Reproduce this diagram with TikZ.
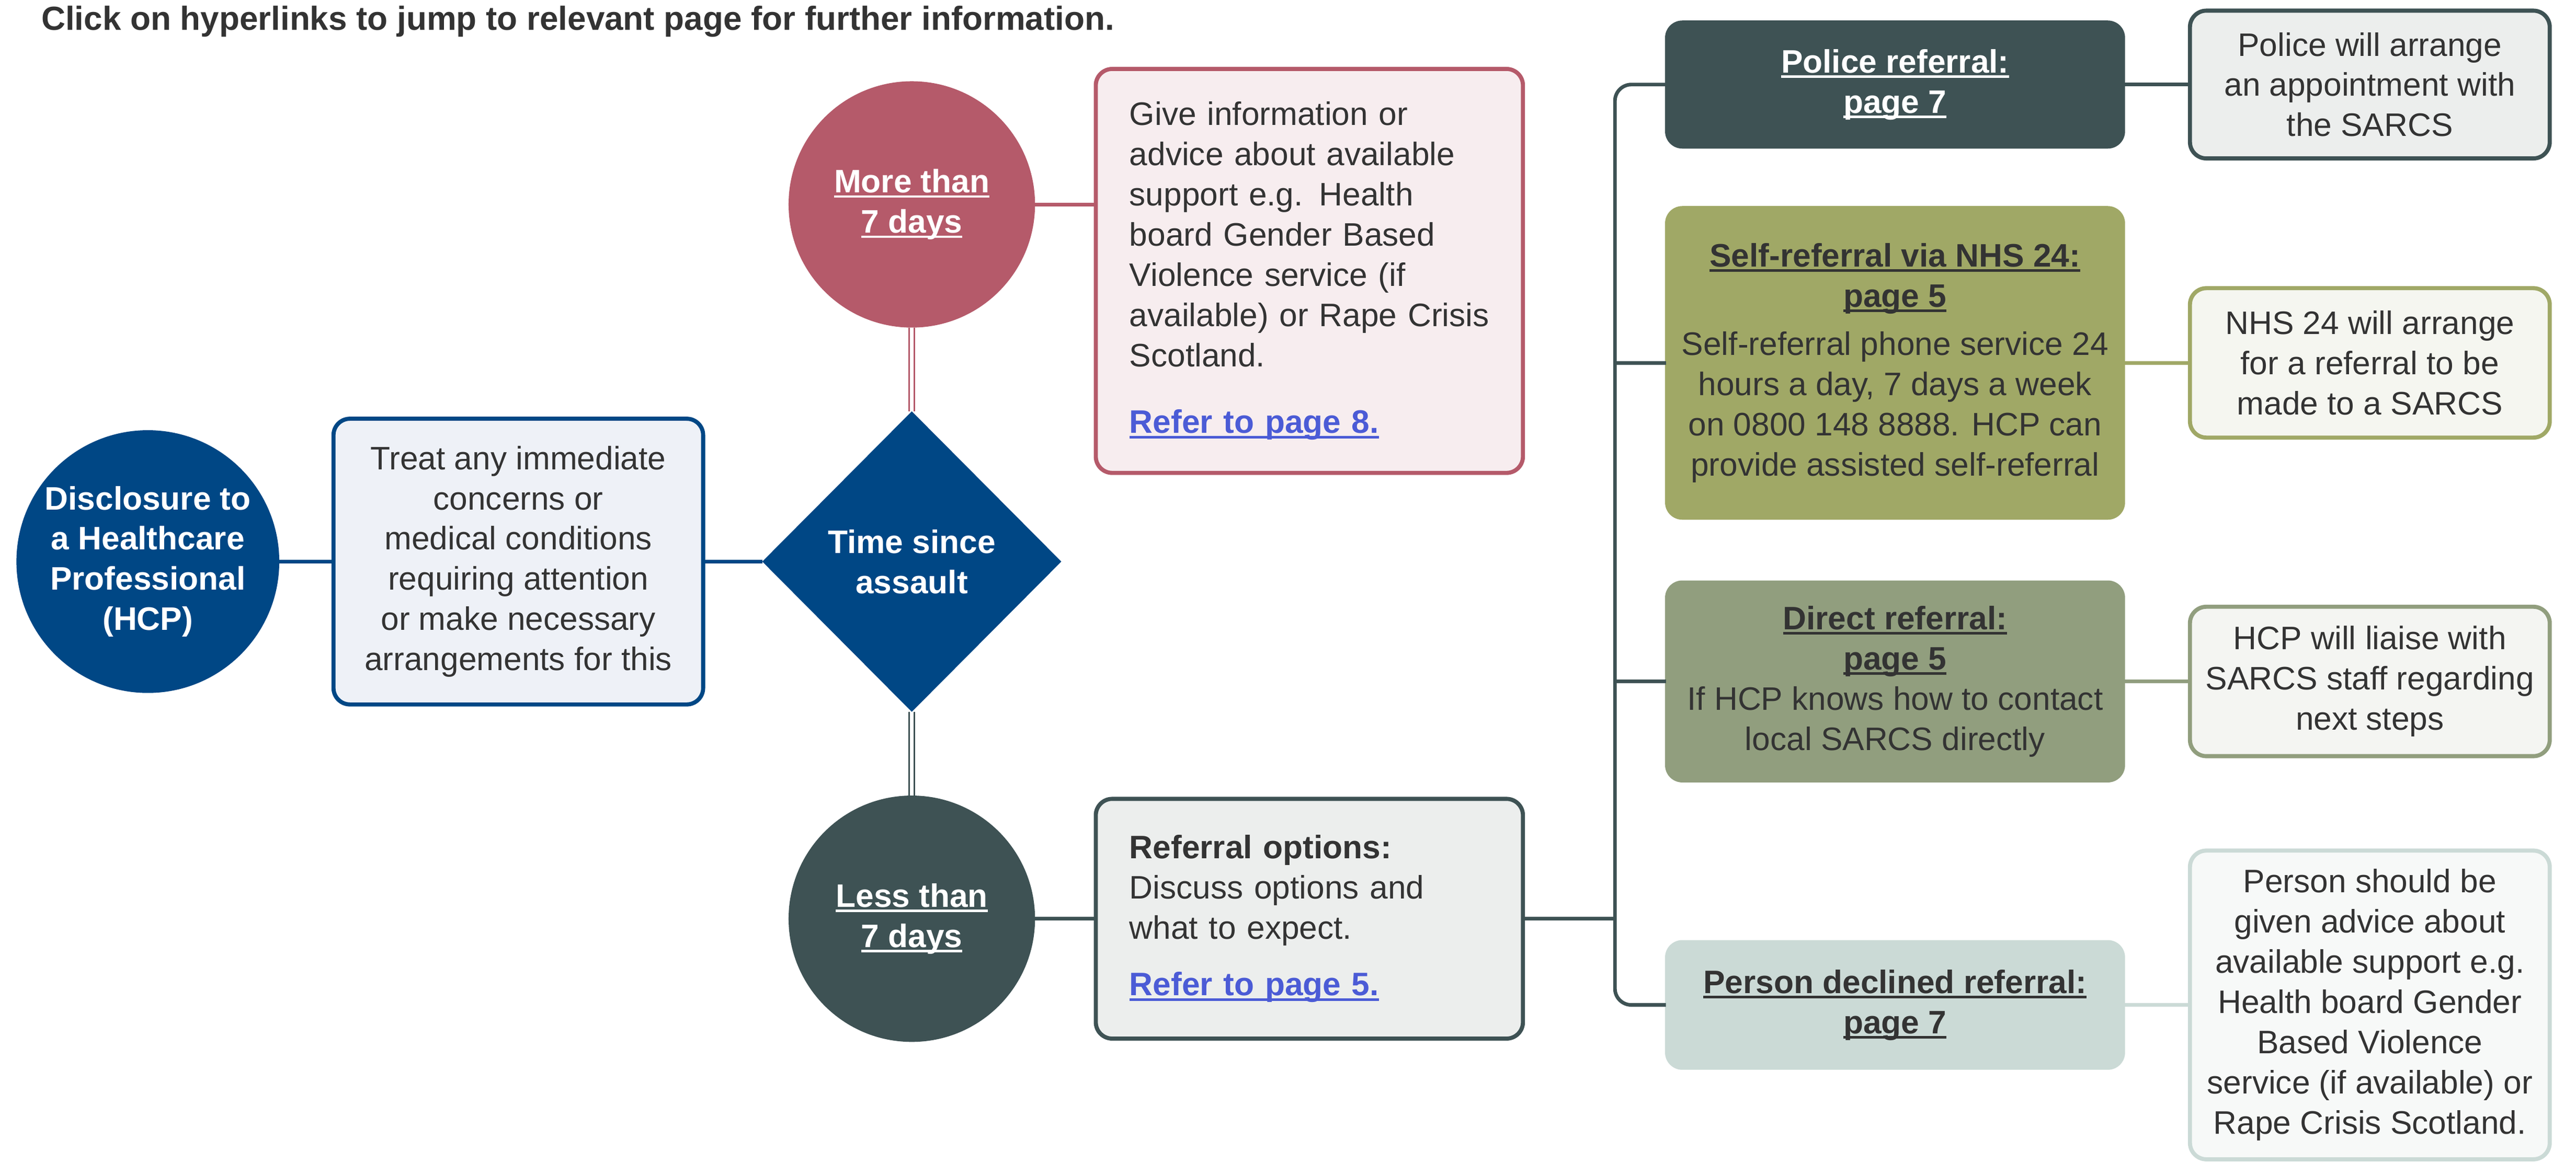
\documentclass[tikz,border=0pt]{standalone}
\usepackage{fontspec}
\setmainfont{Liberation Sans}
\usetikzlibrary{positioning,shapes.geometric}
\definecolor{navy}{RGB}{0,71,133}
\definecolor{navyfill}{RGB}{238,241,247}
\definecolor{rose}{RGB}{181,90,106}
\definecolor{rosefill}{RGB}{247,237,239}
\definecolor{slate}{RGB}{62,82,84}
\definecolor{slatefill}{RGB}{236,238,237}
\definecolor{olive}{RGB}{160,168,102}
\definecolor{olivefill}{RGB}{245,246,240}
\definecolor{sage}{RGB}{145,158,126}
\definecolor{sagefill}{RGB}{244,245,242}
\definecolor{pale}{RGB}{203,218,214}
\definecolor{palefill}{RGB}{247,249,248}
\definecolor{linkblue}{RGB}{75,91,214}
\definecolor{txtgray}{RGB}{51,51,51}
\newsavebox{\ulbox}
\newcommand{\ulink}[1]{\sbox{\ulbox}{#1}\rlap{\vrule width\wd\ulbox height -1.6pt depth 3.1pt}\usebox{\ulbox}}
\newcommand{\linkline}[1]{\textbf{\ulink{#1}}}

\begin{document}
\begin{tikzpicture}[x=1pt,y=1pt,
  txt/.style={font=\fontsize{19.8}{24.5}\selectfont, text=txtgray},
  discnode/.style={circle, fill=navy, minimum size=160pt, inner sep=0pt, outer sep=0pt, align=center,
    font=\fontsize{19.8}{24.5}\selectfont\bfseries, text=white},
  daynode/.style={circle, fill=#1, minimum size=150pt, inner sep=0pt, outer sep=0pt, align=center,
    font=\fontsize{19.8}{24.5}\selectfont\bfseries, text=white},
  sortbox/.style={diamond, fill=navy, minimum width=182pt, minimum height=183pt, inner sep=0pt,
    outer sep=0pt, align=center, font=\fontsize{19.8}{24.5}\selectfont\bfseries, text=white},
  textbox/.style={txt, draw=#1, line width=2.5pt, rounded corners=10pt, inner sep=0pt, outer sep=0pt,
    align=center},
  routebox/.style={txt, draw=#1, fill=#1, line width=1pt, rounded corners=10pt, minimum width=279pt,
    inner sep=0pt, outer sep=0pt, align=center},
  resultbox/.style={textbox=#1, minimum width=219pt},
  link/.style={draw=#1, line width=2.2pt},
  dbl/.style={draw=#1, line width=1pt, double=white, double distance=2pt}]

\useasboundingbox (0,0) rectangle (1568,708);

\node[txt, anchor=west, inner sep=0pt, font=\fontsize{20.3}{24.5}\selectfont\bfseries] (title) at (25,695)
  {Click on hyperlinks to jump to relevant page for further information.};

\node[discnode] (hcp) at (90,366) {Disclosure to\\a Healthcare\\Professional\\(HCP)};
\node[textbox=navy, fill=navyfill, minimum width=225pt, minimum height=174pt, right=33pt of hcp] (treat)
  {Treat any immediate\\concerns or\\medical conditions\\requiring attention\\or make necessary\\arrangements for this};
\node[sortbox, right=36pt of treat] (time) {Time since\\assault};
\node[daynode=rose, above=51pt of time] (more) {\ulink{More than}\\\ulink{7 days}};
\node[daynode=slate, below=51pt of time] (less) {\ulink{Less than}\\\ulink{7 days}};

\node[textbox=rose, fill=rosefill, text width=219pt, inner xsep=20.5pt, minimum height=246pt, align=left] (info) at (797,543)
  {Give information or\\advice about available\\support e.g. Health\\board Gender Based\\Violence service (if\\available) or Rape Crisis\\Scotland.\\[16pt]\textcolor{linkblue}{\linkline{Refer to page 8.}}};
\node[textbox=slate, fill=slatefill, text width=219pt, inner xsep=20.5pt, minimum height=146pt, align=left, right=37pt of less] (options)
  {\textbf{Referral options:}\\Discuss options and\\what to expect.\\[10pt]\textcolor{linkblue}{\linkline{Refer to page 5.}}};

\node[routebox=slate, minimum height=77pt, text=white] (police) at (1153.5,656.5) {\linkline{Police referral:}\\\linkline{page 7}};
\node[routebox=olive, minimum height=190pt, below=36pt of police] (self)
  {\linkline{Self-referral via NHS 24:}\\\linkline{page 5}\\[5pt]Self-referral phone service 24\\hours a day, 7 days a week\\on 0800 148 8888. HCP can\\provide assisted self-referral};
\node[routebox=sage, minimum height=122pt, below=38pt of self] (direct)
  {\linkline{Direct referral:}\\\linkline{page 5}\\If HCP knows how to contact\\local SARCS directly};
\node[routebox=pale, minimum height=78pt, below=97pt of direct] (declined)
  {\linkline{Person declined referral:}\\\linkline{page 7}};

\node[resultbox=slate, fill=slatefill, minimum height=90pt, right=40pt of police] (policeout)
  {Police will arrange\\an appointment with\\the SARCS};
\node[resultbox=olive, fill=olivefill, minimum height=91pt, right=40pt of self] (selfout)
  {NHS 24 will arrange\\for a referral to be\\made to a SARCS};
\node[resultbox=sage, fill=sagefill, minimum height=91pt, right=40pt of direct] (directout)
  {HCP will liaise with\\SARCS staff regarding\\next steps};
\node[resultbox=pale, fill=palefill, minimum height=188pt, right=40pt of declined] (declinedout)
  {Person should be\\given advice about\\available support e.g.\\Health board Gender\\Based Violence\\service (if available) or\\Rape Crisis Scotland.};

\coordinate[right=56pt of options.east] (trunk);

\draw[link=navy] (hcp) -- (treat);
\draw[link=navy] (treat) -- (time);
\draw[dbl=rose] (more) -- (time);
\draw[dbl=slate] (time) -- (less);
\draw[link=rose] (more.east) -- (more.east -| info.west);
\draw[link=slate] (less) -- (options);
\draw[link=slate] (options.east) -- (trunk);
\draw[link=slate, rounded corners=10pt] (police.west) -| (trunk) |- (declined.west);
\draw[link=slate] (self.west) -- (self.west -| trunk);
\draw[link=slate] (direct.west) -- (direct.west -| trunk);
\draw[link=slate] (police) -- (policeout);
\draw[link=olive] (self) -- (selfout);
\draw[link=sage] (direct) -- (directout);
\draw[link=pale] (declined) -- (declinedout);
\end{tikzpicture}
\end{document}
